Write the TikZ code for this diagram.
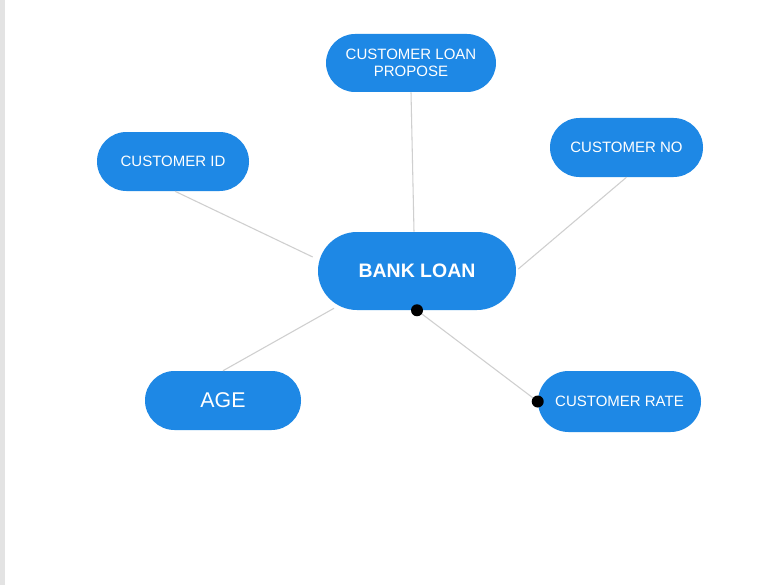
\documentclass[tikz,border=0pt]{standalone}
\usepackage{fontspec}
\setmainfont{Liberation Sans}
\usetikzlibrary{shapes.misc,calc}
\definecolor{nodeblue}{HTML}{1E88E5}
\definecolor{linegray}{HTML}{CFCFCF}
\definecolor{stripgray}{HTML}{E3E3E3}
\tikzset{
  pill/.style={rounded rectangle, fill=nodeblue, text=white, inner sep=0pt, align=center, font=\fontsize{11.25pt}{12.5pt}\selectfont},
  conn/.style={draw=linegray, line width=0.8pt},
  joint/.style={circle, fill=black, inner sep=0pt, minimum size=9pt}
}
\begin{document}
\begin{tikzpicture}[x=0.75pt,y=-0.75pt]
\useasboundingbox (0,0) rectangle (782,585);
\fill[white] (0,0) rectangle (782,585);
\fill[stripgray] (0,0) rectangle (5,585);
\node[pill, minimum width=148.5pt, minimum height=58.5pt, font=\fontsize{14.6pt}{16pt}\selectfont\bfseries] (bank) at (417,271) {BANK LOAN};
\node[pill, minimum width=127.5pt, minimum height=43.5pt] (clp) at (411,63) {CUSTOMER LOAN\\PROPOSE};
\node[pill, minimum width=114pt, minimum height=44.25pt] (cid) at (173,161.5) {CUSTOMER ID};
\node[pill, minimum width=114.75pt, minimum height=44.25pt] (cno) at (626.5,147.5) {CUSTOMER NO};
\node[pill, minimum width=117pt, minimum height=44.25pt, font=\fontsize{16pt}{18pt}\selectfont] (age) at (223,400.5) {AGE};
\node[pill, minimum width=122.25pt, minimum height=45.75pt] (cr) at (619.5,401.5) {CUSTOMER RATE};
\begin{scope}[on background layer/.style={}]
\draw[conn] ([xshift=0pt]clp.south) -- ([xshift=-2.25pt]bank.north);
\draw[conn] ([xshift=1.5pt]cid.south) -- ($(bank.west)+(-5,-14)$);
\draw[conn] (cno.south) -- ($(bank.east)+(2,-2)$);
\draw[conn] (age.north) -- ($(bank.south)+(-83,-2)$);
\draw[conn] (bank.south) -- (cr.west);
\end{scope}
\node[joint] (j1) at (bank.south) {};
\node[joint] (j2) at (cr.west) {};
\end{tikzpicture}
\end{document}
